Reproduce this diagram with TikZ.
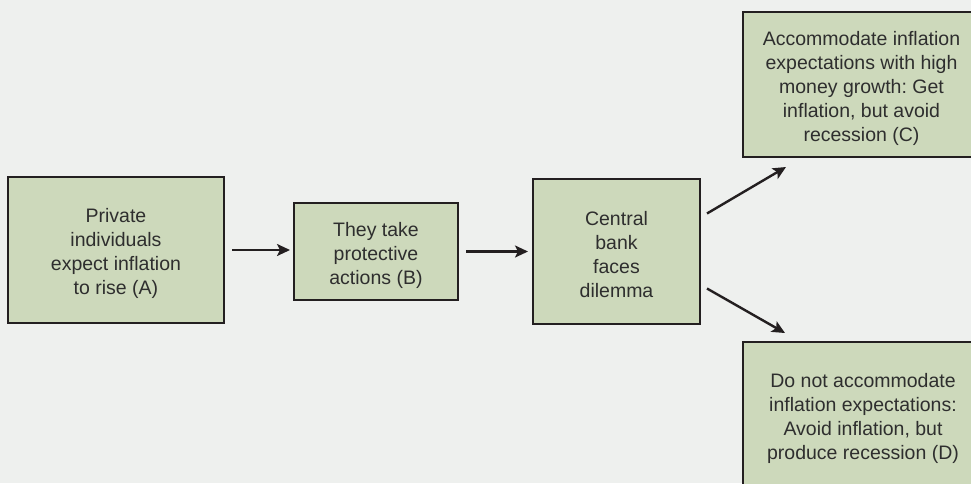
\documentclass[tikz,border=0pt]{standalone}
\usepackage{fontspec}
\setmainfont{Liberation Sans}
\frenchspacing
\usetikzlibrary{arrows.meta}
\definecolor{bgcol}{HTML}{EEF0EE}
\definecolor{boxfill}{HTML}{CDD9BB}
\definecolor{boxline}{HTML}{231F20}
\definecolor{txtcol}{HTML}{2E2E2E}
\tikzset{
  stagebox/.style={draw=boxline, fill=boxfill, line width=2pt, inner sep=0pt},
  boxtext/.style={align=center, text=txtcol, inner sep=0pt, yshift=-3.5pt,
    font=\fontsize{19.5}{24}\selectfont},
  flowarrow/.style={draw=boxline, line width=2.4pt,
    -{Stealth[length=13pt,width=12pt,inset=3pt]}}
}
\begin{document}
\begin{tikzpicture}[x=1pt,y=-1pt]
\clip (0,0) rectangle (971,483);
\fill[bgcol] (0,0) rectangle (971,483);
\node[stagebox, minimum width=216pt, minimum height=146pt,
  label={[boxtext]center:Private\\individuals\\expect inflation\\to rise (A)}] (A) at (116,250) {};
\node[stagebox, minimum width=164pt, minimum height=97pt,
  label={[boxtext]center:They take\\protective\\actions (B)}] (B) at (376,251.5) {};
\node[stagebox, minimum width=167pt, minimum height=145pt,
  label={[boxtext]center:Central\\bank\\faces\\dilemma}] (C) at (616.5,251.5) {};
\node[stagebox, minimum width=237pt, minimum height=145pt,
  label={[boxtext]center:Accommodate inflation\\expectations with high\\money growth: Get\\inflation, but avoid\\recession (C)}] (T) at (861.5,84.5) {};
\node[stagebox, minimum width=240pt, minimum height=146pt,
  label={[boxtext]center:Do not accommodate\\inflation expectations:\\Avoid inflation, but\\produce recession (D)}] (D) at (863,415) {};
\coordinate (c1) at ([xshift=6pt,yshift=38pt]C.east);
\coordinate (t1) at ([xshift=44pt,yshift=-9pt]T.south west);
\coordinate (c2) at ([xshift=6pt,yshift=-37pt]C.east);
\coordinate (d1) at ([xshift=43pt,yshift=8pt]D.north west);
\draw[flowarrow, shorten <=7pt, shorten >=3pt] (A.east) -- (B.west |- A.east);
\draw[flowarrow, shorten <=7pt, shorten >=4pt] (B.east) -- (C.west |- B.east);
\draw[flowarrow] (c1) -- (t1);
\draw[flowarrow] (c2) -- (d1);
\end{tikzpicture}
\end{document}
